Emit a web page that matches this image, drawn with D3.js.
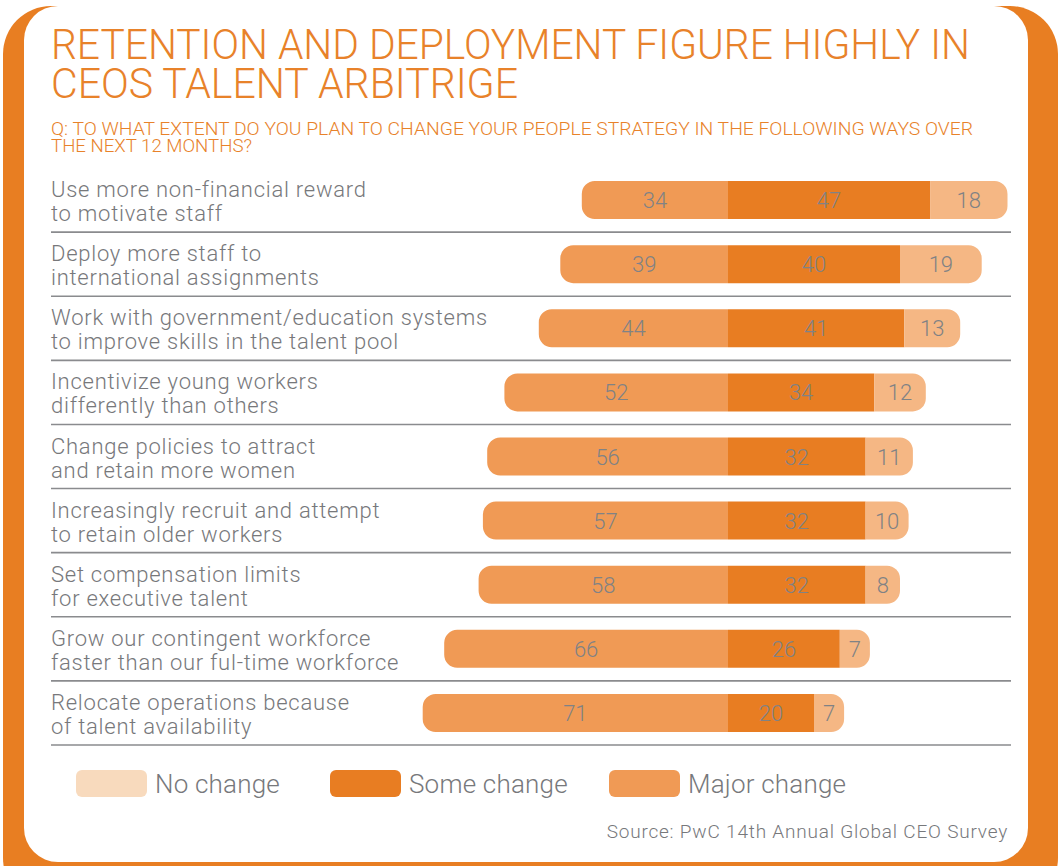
<!DOCTYPE html>
<html>
<head>
<meta charset="utf-8">
<script src="https://cdn.jsdelivr.net/npm/d3@7"></script>
<style>
  html, body { margin: 0; padding: 0; background: #fff; }
  svg { display: block; }
  .lbl { font-family: Roboto, "Open Sans", sans-serif; font-weight: 300; fill: #77787b; }
</style>
</head>
<body>
<svg id="chart"></svg>
<script>
const categories = [
  ["Use more non-financial reward", "to motivate staff"],
  ["Deploy more staff to", "international assignments"],
  ["Work with government/education systems", "to improve skills in the talent pool"],
  ["Incentivize young workers", "differently than others"],
  ["Change policies to attract", "and retain more women"],
  ["Increasingly recruit and attempt", "to retain older workers"],
  ["Set compensation limits", "for executive talent"],
  ["Grow our contingent workforce", "faster than our ful-time workforce"],
  ["Relocate operations because", "of talent availability"]
];
const majorChange = [34, 39, 44, 52, 56, 57, 58, 66, 71];
const someChange = [47, 40, 41, 34, 32, 32, 32, 26, 20];
const noChange = [18, 19, 13, 12, 11, 10, 8, 7, 7];
const legendLabels = ["No change", "Some change", "Major change"];

function makeChart() {
  let w = 1061;
  let h = 866;
  let orange = "#e87e22";
  let cMajor = "#f09a55";
  let cSome = "#e87d22";
  let cNo = "#f5b784";

  let svg = d3.select("#chart").attr("width", w).attr("height", h);

  // frame
  svg.append("rect").attr("x", 3).attr("y", 6).attr("width", 1055).attr("height", 900)
    .attr("rx", 48).attr("fill", orange);
  svg.append("rect").attr("x", 24).attr("y", 6).attr("width", 1004).attr("height", 856)
    .attr("rx", 34).attr("fill", "#fff");

  // titles (one text each, lines as tspans)
  let title = ["RETENTION AND DEPLOYMENT FIGURE HIGHLY IN", "CEOS TALENT ARBITRIGE"];
  let titleW = [919, 467];
  svg.append("text").attr("class", "lbl title")
    .attr("font-size", "43px").style("fill", "#e8822a")
    .selectAll("tspan").data(title).enter().append("tspan")
    .attr("x", 51).attr("y", (d, i) => 59 + i * 39)
    .attr("textLength", (d, i) => titleW[i]).attr("lengthAdjust", "spacingAndGlyphs")
    .text(d => d);

  let sub = ["Q: TO WHAT EXTENT DO YOU PLAN TO CHANGE YOUR PEOPLE STRATEGY IN THE FOLLOWING WAYS OVER", "THE NEXT 12 MONTHS?"];
  let subW = [922, 201];
  svg.append("text").attr("class", "lbl sub")
    .attr("font-size", "17.5px").style("fill", "#e8822a")
    .selectAll("tspan").data(sub).enter().append("tspan")
    .attr("x", 51).attr("y", (d, i) => 135 + i * 17)
    .attr("textLength", (d, i) => subW[i]).attr("lengthAdjust", "spacingAndGlyphs")
    .text(d => d);

  let y = d3.scaleBand().domain(d3.range(categories.length)).range([168, 745]);
  let x = d3.scaleLinear().domain([-100, 100]).range([728 - 430, 728 + 430]);
  let bh = 38;

  let rows = svg.selectAll("g.row").data(categories).enter().append("g")
    .attr("class", "row")
    .attr("transform", (d, i) => `translate(0,${y(i) + y.bandwidth() / 2})`);

  rows.append("line")
    .attr("x1", 51).attr("x2", 1011)
    .attr("y1", y.bandwidth() / 2).attr("y2", y.bandwidth() / 2)
    .attr("stroke", "#8a8b8e").attr("stroke-width", 1.6);

  rows.append("text").attr("class", "lbl").attr("x", 51).attr("y", -3)
    .attr("font-size", "22px").style("letter-spacing", "0.75px").text(d => d[0]);
  rows.append("text").attr("class", "lbl").attr("x", 51).attr("y", 21)
    .attr("font-size", "22px").style("letter-spacing", "0.75px").text(d => d[1]);

  function segPath(x0, x1, hh, rl, rr) {
    let p = d3.path();
    let t = -hh / 2, b = hh / 2;
    p.moveTo(x0 + rl, t);
    p.lineTo(x1 - rr, t);
    if (rr) p.arcTo(x1, t, x1, t + rr, rr);
    p.lineTo(x1, b - rr);
    if (rr) p.arcTo(x1, b, x1 - rr, b, rr);
    p.lineTo(x0 + rl, b);
    if (rl) p.arcTo(x0, b, x0, b - rl, rl);
    p.lineTo(x0, t + rl);
    if (rl) p.arcTo(x0, t, x0 + rl, t, rl);
    p.closePath();
    return p.toString();
  }

  rows.append("path").attr("fill", cMajor)
    .attr("d", (d, i) => segPath(x(-majorChange[i]), x(0), bh, 13, 0));
  rows.append("path").attr("fill", cSome)
    .attr("d", (d, i) => segPath(x(0), x(someChange[i]), bh, 0, 0));
  rows.append("path").attr("fill", cNo)
    .attr("d", (d, i) => segPath(x(someChange[i]), x(someChange[i] + noChange[i]), bh, 0, 13));

  let valStyle = sel => sel.attr("class", "lbl").attr("font-size", "22px")
    .attr("text-anchor", "middle").attr("y", 8).style("fill", "#808285");
  rows.append("text").call(valStyle)
    .attr("x", (d, i) => (x(-majorChange[i]) + x(0)) / 2).text((d, i) => majorChange[i]);
  rows.append("text").call(valStyle)
    .attr("x", (d, i) => (x(0) + x(someChange[i])) / 2).text((d, i) => someChange[i]);
  rows.append("text").call(valStyle)
    .attr("x", (d, i) => (x(someChange[i]) + x(someChange[i] + noChange[i])) / 2).text((d, i) => noChange[i]);

  // legend
  let legColors = ["#f8dabd", cSome, cMajor];
  let legX = [76, 330, 609];
  let leg = svg.selectAll("g.leg").data(legendLabels).enter().append("g")
    .attr("transform", (d, i) => `translate(${legX[i]},770)`);
  leg.append("rect").attr("width", 71).attr("height", 27).attr("rx", 6)
    .attr("fill", (d, i) => legColors[i]);
  leg.append("text").attr("class", "lbl").attr("x", 79).attr("y", 23)
    .attr("font-size", "26px").style("letter-spacing", "0.2px").text(d => d);

  svg.append("text").attr("class", "lbl").attr("x", 1008).attr("y", 838)
    .attr("text-anchor", "end").attr("font-size", "19px").style("letter-spacing", "0.8px")
    .text("Source: PwC 14th Annual Global CEO Survey");
}

window.onload = function() {
  makeChart();
}
</script>
</body>
</html>
